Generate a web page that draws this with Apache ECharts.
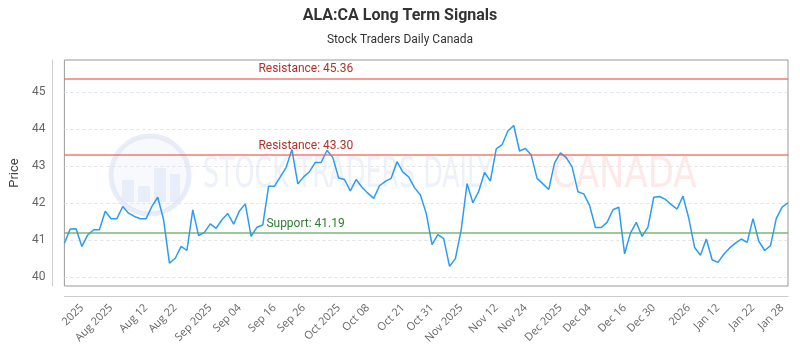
<!DOCTYPE html>
<html>
<head>
<meta charset="utf-8">
<script src="https://cdn.jsdelivr.net/npm/echarts@6/dist/echarts.min.js"></script>
<style>
  html, body { margin: 0; padding: 0; background: #fff; }
  #chart { width: 800px; height: 350px; }
</style>
</head>
<body>
<div id="chart"></div>
<script>
// closing prices, one per trading day
const prices = [
  40.91, 41.29, 41.30, 40.82, 41.13, 41.27, 41.27, 41.77, 41.57, 41.57,
  41.90, 41.72, 41.63, 41.57, 41.57, 41.90, 42.15, 41.54, 40.37, 40.50,
  40.82, 40.71, 41.81, 41.11, 41.20, 41.43, 41.31, 41.54, 41.71, 41.42,
  41.78, 41.97, 41.09, 41.34, 41.40, 42.45, 42.45, 42.70, 42.96, 43.44,
  42.51, 42.70, 42.84, 43.09, 43.09, 43.42, 43.22, 42.67, 42.63, 42.32,
  42.63, 42.42, 42.26, 42.12, 42.46, 42.58, 42.66, 43.11, 42.83, 42.70,
  42.41, 42.21, 41.72, 40.87, 41.14, 41.03, 40.28, 40.49, 41.27, 42.52,
  42.00, 42.31, 42.82, 42.59, 43.46, 43.57, 43.94, 44.09, 43.40, 43.47,
  43.29, 42.66, 42.51, 42.36, 43.08, 43.35, 43.22, 42.97, 42.30, 42.24,
  41.93, 41.33, 41.33, 41.47, 41.81, 41.88, 40.62, 41.18, 41.47, 41.09,
  41.34, 42.15, 42.17, 42.09, 41.95, 41.83, 42.18, 41.58, 40.79, 40.58,
  41.02, 40.46, 40.39, 40.61, 40.78, 40.91, 41.02, 40.93, 41.57, 40.96,
  40.71, 40.84, 41.58, 41.88, 42.00
];
const days = prices.map((_, i) => i);

// x axis labels and the day index they sit on
const tickLabels = ['2025', 'Aug 2025', 'Aug 12', 'Aug 22', 'Sep 2025', 'Sep 04', 'Sep 16', 'Sep 26',
  'Oct 2025', 'Oct 08', 'Oct 21', 'Oct 31', 'Nov 2025', 'Nov 12', 'Nov 24', 'Dec 2025', 'Dec 04',
  'Dec 16', 'Dec 30', '2026', 'Jan 12', 'Jan 22', 'Jan 28'];
const tickIdx = [3, 8, 14, 19, 25, 30, 36, 41, 47, 52, 58, 63, 68, 74, 79, 85, 90, 96, 101, 107, 112, 118, 123];

const yTicks = [40, 41, 42, 43, 44, 45];

const resistance = [45.36, 43.30];
const support = [41.19];

const chart = echarts.init(document.getElementById('chart'));

const levelLines = [];
resistance.forEach(v => levelLines.push({
  name: 'Resistance', yAxis: v,
  lineStyle: { color: 'rgba(238, 90, 80, 0.6)', width: 2, type: 'solid' },
  label: { color: '#b3312b', distance: [194, 3] }
}));
support.forEach(v => levelLines.push({
  name: 'Support', yAxis: v,
  lineStyle: { color: 'rgba(90, 165, 90, 0.6)', width: 2, type: 'solid' },
  label: { color: '#2f7d32', distance: [202, 3] }
}));

const option = {
  animation: false,
  title: {
    text: 'ALA:CA Long Term Signals',
    subtext: 'Stock Traders Daily Canada',
    left: 'center',
    top: 3,
    itemGap: 10,
    textStyle: { fontFamily: 'Roboto', fontSize: 16, fontWeight: 'bold', color: '#333' },
    subtextStyle: { fontFamily: 'Roboto', fontSize: 12, color: '#333' }
  },
  grid: {
    left: 62, right: 12, top: 60, bottom: 64,
    show: true, borderColor: '#999', borderWidth: 1
  },
  graphic: [
    // faint watermark
    {
      type: 'circle', silent: true, z: 0,
      shape: { cx: 150, cy: 175, r: 39 },
      style: { fill: 'rgba(230, 236, 247, 0.3)', stroke: 'rgba(222, 230, 245, 0.7)', lineWidth: 5 }
    },
    {
      type: 'rect', silent: true, z: 0,
      shape: { x: 122, y: 180, width: 12, height: 22 },
      style: { fill: 'rgba(222, 230, 245, 0.6)' }
    },
    {
      type: 'rect', silent: true, z: 0,
      shape: { x: 138, y: 186, width: 12, height: 16 },
      style: { fill: 'rgba(222, 230, 245, 0.6)' }
    },
    {
      type: 'rect', silent: true, z: 0,
      shape: { x: 154, y: 168, width: 12, height: 34 },
      style: { fill: 'rgba(222, 230, 245, 0.6)' }
    },
    {
      type: 'rect', silent: true, z: 0,
      shape: { x: 170, y: 174, width: 10, height: 28 },
      style: { fill: 'rgba(222, 230, 245, 0.6)' }
    },
    {
      type: 'text', silent: true, z: 0, left: 203, top: 155, scaleX: 0.67,
      style: { text: 'STOCK TRADERS DAILY', fontFamily: 'DejaVu Sans Condensed', fontSize: 42, fill: 'rgba(220, 228, 243, 0.5)' }
    },
    {
      type: 'text', silent: true, z: 0, left: 552, top: 155, scaleX: 0.9,
      style: { text: 'CANADA', fontFamily: 'DejaVu Sans Condensed', fontSize: 42, fill: 'rgba(252, 200, 200, 0.4)' }
    }
  ],
  xAxis: {
    type: 'category',
    data: days,
    boundaryGap: false,
    offset: 10,
    axisLine: { show: true, lineStyle: { color: '#ccc' } },
    axisTick: { show: false },
    axisLabel: {
      rotate: 45,
      margin: 10,
      fontFamily: 'Open Sans',
      fontSize: 11,
      color: '#666',
      interval: (i) => tickIdx.includes(i),
      formatter: (v, i) => tickLabels[tickIdx.indexOf(i)] || ''
    },
    splitLine: { show: false }
  },
  yAxis: {
    type: 'value',
    min: 39.75,
    max: 45.86,
    offset: 12,
    name: 'Price',
    nameLocation: 'middle',
    nameGap: 28,
    nameTextStyle: { fontFamily: 'Roboto', fontSize: 13, color: '#444' },
    axisLine: { show: true, lineStyle: { color: '#ccc' } },
    axisTick: { show: false, customValues: yTicks },
    axisLabel: {
      customValues: yTicks,
      margin: 7,
      fontFamily: 'Roboto',
      fontSize: 12,
      color: '#666'
    },
    splitLine: { show: true, lineStyle: { color: '#e3e3e3', type: [3, 3] } }
  },
  series: [{
    type: 'line',
    data: prices,
    symbol: 'none',
    lineStyle: { color: '#2c9cf2', width: 1.5 },
    z: 3,
    markLine: {
      silent: true,
      symbol: 'none',
      label: {
        position: 'insideStartTop',
        fontFamily: 'Roboto',
        fontSize: 12,
        formatter: p => p.name + ': ' + p.value.toFixed(2)
      },
      data: levelLines
    }
  }]
};

chart.setOption(option);
</script>
</body>
</html>
